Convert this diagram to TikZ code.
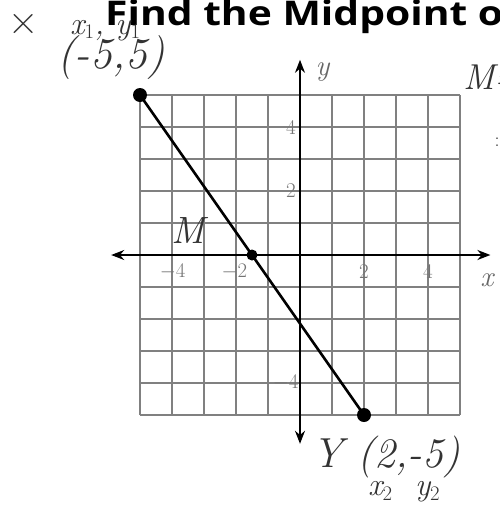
\documentclass[tikz,border=0pt]{standalone}
\usepackage{fontspec}
\newfontfamily\titlefont{Open Sans}
\usetikzlibrary{arrows.meta}
\begin{document}
\begin{tikzpicture}[x=1pt,y=-1pt,
  hand/.style={font=\itshape\fontsize{38}{38}\selectfont, text=black!80, inner sep=0},
  ticklbl/.style={font=\fontsize{21}{21}\selectfont, text=black!55, inner sep=0},
  axlbl/.style={font=\itshape\fontsize{29}{29}\selectfont, text=black!60, inner sep=0},
  gridline/.style={draw=black!50, line width=1.8pt},
  axis/.style={draw=black, line width=1.8pt, {Stealth[length=13pt,width=10pt]}-{Stealth[length=13pt,width=10pt]}},
  seg/.style={draw=black, line width=2.6pt},
  dot/.style={circle, fill=black, inner sep=0, minimum size=14pt}
]
\clip (0,0) rectangle (500,512);
\fill[white] (0,0) rectangle (500,512);
\node[anchor=base west, font=\titlefont\bfseries\fontsize{34}{34}\selectfont, inner sep=0, xscale=1.2] (title) at (105,25) {Find the Midpoint o};
\begin{scope}[shift={(300,255)}, x=32pt, y=32pt]
  \draw[gridline, step={(1,1)}] (-5,-5) grid (5,5);
  \coordinate (xl) at (-5.9,0); \coordinate (xr) at (5.95,0);
  \coordinate (yt) at (0,6.1); \coordinate (yb) at (0,-5.9);
  \draw[axis] (xl) -- (xr);
  \draw[axis] (yb) -- (yt);
  \node[axlbl] (xlab) at (5.84,-0.78) {x};
  \node[axlbl] (ylab) at (0.7,5.72) {y};
  \node[ticklbl] (tx1) at (-3.98,-0.52) {$-4$};
  \node[ticklbl] (tx2) at (-2.05,-0.52) {$-2$};
  \node[ticklbl] (tx3) at (2,-0.52) {2};
  \node[ticklbl] (tx4) at (4,-0.52) {4};
  \node[ticklbl] (ty1) at (-0.28,4) {4};
  \node[ticklbl] (ty2) at (-0.28,2) {2};
  \node[ticklbl] (ty3) at (-0.45,-4) {$-4$};
  \node[dot] (A) at (-5,5) {};
  \node[dot] (B) at (2,-5) {};
  \node[dot, minimum size=11pt] (M) at (-1.5,0) {};
  \draw[seg] (A.center) -- (B.center);
\end{scope}
\node[hand, font=\fontsize{42}{42}\selectfont] (xx) at (24,24) {×};
\node[hand, font=\itshape\fontsize{32}{32}\selectfont, anchor=base west] (x1y1) at (70,34) {x$_{1}$, y$_{1}$};
\node[hand, font=\itshape\fontsize{44}{44}\selectfont] (p1) at (111,58) {(-5,5)};
\node[hand] (mlab) at (188,231) {M};
\node[hand, font=\itshape\fontsize{36}{36}\selectfont, anchor=west] (meq) at (463,77) {M=};
\node[hand, font=\fontsize{20}{20}\selectfont] (dots) at (497,142) {:};
\node[hand, font=\itshape\fontsize{42}{42}\selectfont, anchor=west] (ylbl) at (312,457) {Y (2,-5)};
\node[hand, font=\itshape\fontsize{32}{32}\selectfont, anchor=west] (x2y2) at (368,492) {x$_{2}$\ \ y$_{2}$};
\end{tikzpicture}
\end{document}
